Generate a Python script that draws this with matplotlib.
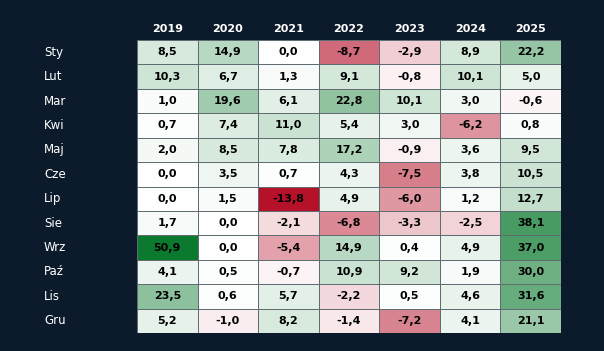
import numpy as np
import matplotlib
matplotlib.use("Agg")
import matplotlib.pyplot as plt
from matplotlib.colors import LinearSegmentedColormap, TwoSlopeNorm

years = ["2019", "2020", "2021", "2022", "2023", "2024", "2025"]
months = ["Sty", "Lut", "Mar", "Kwi", "Maj", "Cze", "Lip", "Sie", "Wrz", "Paź", "Lis", "Gru"]

# wiersze = miesiące, kolumny = lata
values = np.array([
    [8.5, 14.9, 0.0, -8.7, -2.9, 8.9, 22.2],
    [10.3, 6.7, 1.3, 9.1, -0.8, 10.1, 5.0],
    [1.0, 19.6, 6.1, 22.8, 10.1, 3.0, -0.6],
    [0.7, 7.4, 11.0, 5.4, 3.0, -6.2, 0.8],
    [2.0, 8.5, 7.8, 17.2, -0.9, 3.6, 9.5],
    [0.0, 3.5, 0.7, 4.3, -7.5, 3.8, 10.5],
    [0.0, 1.5, -13.8, 4.9, -6.0, 1.2, 12.7],
    [1.7, 0.0, -2.1, -6.8, -3.3, -2.5, 38.1],
    [50.9, 0.0, -5.4, 14.9, 0.4, 4.9, 37.0],
    [4.1, 0.5, -0.7, 10.9, 9.2, 1.9, 30.0],
    [23.5, 0.6, 5.7, -2.2, 0.5, 4.6, 31.6],
    [5.2, -1.0, 8.2, -1.4, -7.2, 4.1, 21.1],
])

BG = "#0c1b2b"
cmap = LinearSegmentedColormap.from_list("rwg", ["#b5122a", "#ffffff", "#0b7a2e"])
norm = TwoSlopeNorm(vmin=values.min(), vcenter=0, vmax=values.max())

fig = plt.figure(figsize=(6.04, 3.51), dpi=100, facecolor=BG)
ax = fig.add_axes([137 / 604, 1 - 333 / 351, (561 - 137) / 604, (333 - 40) / 351])
ax.set_facecolor(BG)

ax.pcolormesh(values, cmap=cmap, norm=norm, edgecolors="#5f6c72", linewidth=0.5)
ax.set_xlim(0, len(years))
ax.set_ylim(len(months), 0)

for i in range(len(months)):
    for j in range(len(years)):
        ax.text(j + 0.5, i + 0.5, f"{values[i, j]:.1f}".replace(".", ","),
                ha="center", va="center", fontsize=8, fontweight="bold", color="black")

ax.set_xticks(np.arange(len(years)) + 0.5)
ax.set_xticklabels(years, fontsize=8, fontweight="bold", color="white")
ax.xaxis.tick_top()
ax.tick_params(axis="x", length=0, pad=4)
ax.set_yticks([])

# etykiety miesięcy wyrównane do lewej
for i, m in enumerate(months):
    ax.text(-(137 - 44) / ((561 - 137) / 7), i + 0.5, m, ha="left", va="center",
            fontsize=8.5, color="white")

for s in ax.spines.values():
    s.set_visible(False)

fig.savefig("out.png", dpi=100, facecolor=BG)
